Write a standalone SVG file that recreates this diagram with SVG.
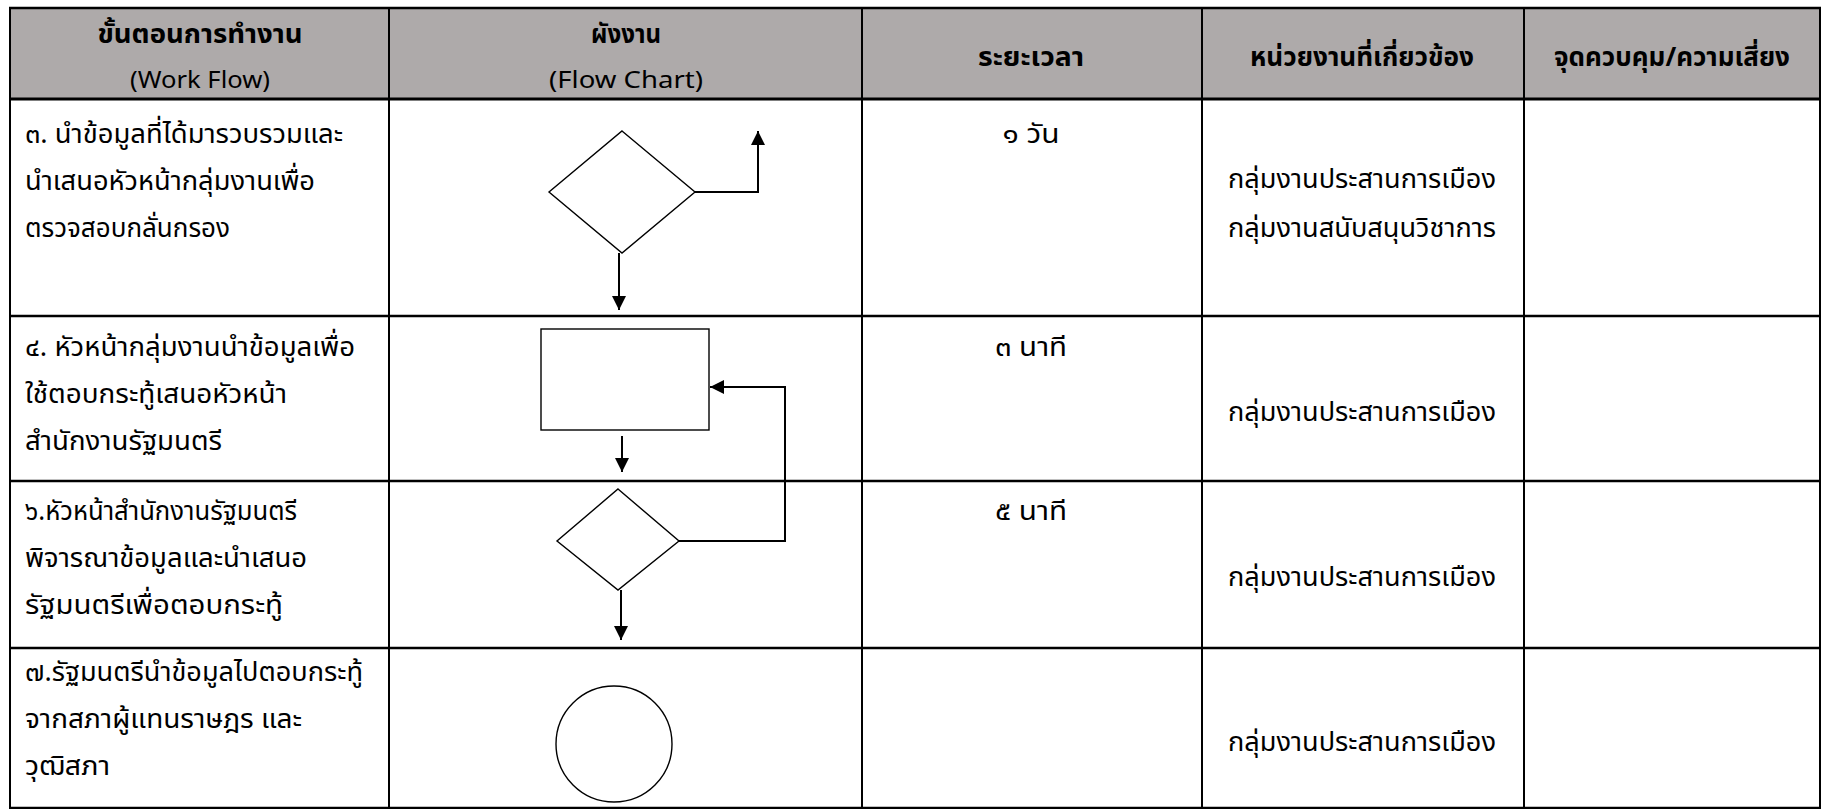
<svg xmlns="http://www.w3.org/2000/svg" width="1821" height="809" viewBox="0 0 1821 809">
<style>
.bg{fill:#ffffff}
.hdr{fill:#AEAAAA}
.gh{stroke:#000;stroke-width:2.5}
.gv{stroke:#000;stroke-width:2}
.shape{fill:#ffffff;stroke:#000;stroke-width:1.4}
.conn{fill:none;stroke:#000;stroke-width:2;marker-end:url(#ah)}
.t{font-family:'Noto Sans Thai','Noto Sans Thai UI','Leelawadee UI',Tahoma,'Noto Sans','DejaVu Sans',sans-serif;font-size:27px;fill:#000}
.c{text-anchor:middle}
.hb{font-weight:bold;font-size:26px}
.hl{font-size:23px}
</style>
<defs>
<marker id="ah" viewBox="0 0 10 10" refX="10" refY="5" markerUnits="userSpaceOnUse" markerWidth="15" markerHeight="14" orient="auto">
<path d="M0,0 L10,5 L0,10 z" fill="#000"/>
</marker>
</defs>
<rect class="bg" x="0" y="0" width="1821" height="809"/>
<g id="table">
<rect class="hdr" x="10" y="8" width="1810" height="91"/>
<line class="gh" x1="9" y1="8" x2="1821" y2="8"/>
<line class="gh" x1="9" y1="99" x2="1821" y2="99" style="stroke-width:3"/>
<line class="gh" x1="9" y1="316" x2="1821" y2="316"/>
<line class="gh" x1="9" y1="481" x2="1821" y2="481"/>
<line class="gh" x1="9" y1="648" x2="1821" y2="648"/>
<line class="gh" x1="9" y1="808" x2="1821" y2="808"/>
<line class="gv" x1="10" y1="8" x2="10" y2="809"/>
<line class="gv" x1="389" y1="8" x2="389" y2="809"/>
<line class="gv" x1="862" y1="8" x2="862" y2="809"/>
<line class="gv" x1="1202" y1="8" x2="1202" y2="809"/>
<line class="gv" x1="1524" y1="8" x2="1524" y2="809"/>
<line class="gv" x1="1820" y1="8" x2="1820" y2="809"/>
</g>
<g id="header">
<text class="t c hb" x="200" y="43" textLength="205" lengthAdjust="spacingAndGlyphs">ขั้นตอนการทำงาน</text>
<text class="t c hl" x="200" y="88" textLength="140" lengthAdjust="spacingAndGlyphs">(Work Flow)</text>
<text class="t c hb" x="626" y="43" textLength="70" lengthAdjust="spacingAndGlyphs">ผังงาน</text>
<text class="t c hl" x="626" y="88" textLength="154" lengthAdjust="spacingAndGlyphs">(Flow Chart)</text>
<text class="t c hb" x="1031" y="66" textLength="106" lengthAdjust="spacingAndGlyphs">ระยะเวลา</text>
<text class="t c hb" x="1362" y="66" textLength="224" lengthAdjust="spacingAndGlyphs">หน่วยงานที่เกี่ยวข้อง</text>
<text class="t c hb" x="1672" y="66" textLength="236" lengthAdjust="spacingAndGlyphs">จุดควบคุม/ความเสี่ยง</text>
</g>
<g id="row1-text">
<text class="t" x="25" y="143" textLength="318" lengthAdjust="spacingAndGlyphs">๓. นำข้อมูลที่ได้มารวบรวมและ</text>
<text class="t" x="25" y="190" textLength="290" lengthAdjust="spacingAndGlyphs">นำเสนอหัวหน้ากลุ่มงานเพื่อ</text>
<text class="t" x="25" y="237" textLength="205" lengthAdjust="spacingAndGlyphs">ตรวจสอบกลั่นกรอง</text>
<text class="t c" x="1031" y="143" textLength="57" lengthAdjust="spacingAndGlyphs">๑ วัน</text>
<text class="t c" x="1362" y="188" textLength="268" lengthAdjust="spacingAndGlyphs">กลุ่มงานประสานการเมือง</text>
<text class="t c" x="1362" y="237" textLength="268" lengthAdjust="spacingAndGlyphs">กลุ่มงานสนับสนุนวิชาการ</text>
</g>
<g id="row2-text">
<text class="t" x="25" y="356" textLength="330" lengthAdjust="spacingAndGlyphs">๔. หัวหน้ากลุ่มงานนำข้อมูลเพื่อ</text>
<text class="t" x="25" y="403" textLength="262" lengthAdjust="spacingAndGlyphs">ใช้ตอบกระทู้เสนอหัวหน้า</text>
<text class="t" x="25" y="450" textLength="197" lengthAdjust="spacingAndGlyphs">สำนักงานรัฐมนตรี</text>
<text class="t c" x="1031" y="356" textLength="72" lengthAdjust="spacingAndGlyphs">๓ นาที</text>
<text class="t c" x="1362" y="421" textLength="268" lengthAdjust="spacingAndGlyphs">กลุ่มงานประสานการเมือง</text>
</g>
<g id="row3-text">
<text class="t" x="25" y="520" textLength="272" lengthAdjust="spacingAndGlyphs">๖.หัวหน้าสำนักงานรัฐมนตรี</text>
<text class="t" x="25" y="567" textLength="282" lengthAdjust="spacingAndGlyphs">พิจารณาข้อมูลและนำเสนอ</text>
<text class="t" x="25" y="614" textLength="258" lengthAdjust="spacingAndGlyphs">รัฐมนตรีเพื่อตอบกระทู้</text>
<text class="t c" x="1031" y="520" textLength="72" lengthAdjust="spacingAndGlyphs">๕ นาที</text>
<text class="t c" x="1362" y="586" textLength="268" lengthAdjust="spacingAndGlyphs">กลุ่มงานประสานการเมือง</text>
</g>
<g id="row4-text">
<text class="t" x="25" y="681" textLength="338" lengthAdjust="spacingAndGlyphs">๗.รัฐมนตรีนำข้อมูลไปตอบกระทู้</text>
<text class="t" x="25" y="728" textLength="277" lengthAdjust="spacingAndGlyphs">จากสภาผู้แทนราษฎร และ</text>
<text class="t" x="25" y="775" textLength="85" lengthAdjust="spacingAndGlyphs">วุฒิสภา</text>
<text class="t c" x="1362" y="751" textLength="268" lengthAdjust="spacingAndGlyphs">กลุ่มงานประสานการเมือง</text>
</g>
<g id="n-decision1"><polygon class="shape" points="622,131 695,192 622,253 549,192"/></g>
<g id="n-process"><rect class="shape" x="541" y="329" width="168" height="101"/></g>
<g id="n-decision2"><polygon class="shape" points="618,489 679,541 618,590 557,541"/></g>
<g id="n-end"><circle class="shape" cx="614" cy="744" r="58"/></g>
<g id="connectors">
<path class="conn" d="M695,192 H758 V131"/>
<path class="conn" d="M619,253 V310"/>
<path class="conn" d="M622,436 V472"/>
<path class="conn" d="M679,541 H785 V387 H710"/>
<path class="conn" d="M621,590 V640"/>
</g>
</svg>
